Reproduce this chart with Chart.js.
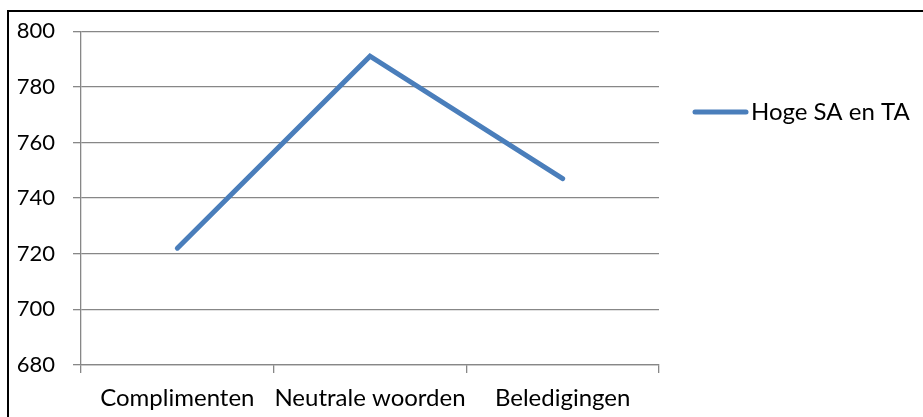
<!DOCTYPE html>
<html>
<head>
<meta charset="utf-8">
<script src="https://cdn.jsdelivr.net/npm/chart.js@4/dist/chart.umd.min.js"></script>
<style>
  html, body { margin: 0; padding: 0; background: #fff; }
  #wrap { width: 923px; height: 417px; position: relative; }
</style>
</head>
<body>
<div id="wrap"><canvas id="chart" width="923" height="417"></canvas></div>
<script>
// Reaction times per word category
const categories = ['Complimenten', 'Neutrale woorden', 'Beledigingen'];
const seriesName = 'Hoge SA en TA';
const seriesValues = [722, 791, 747];
const yTicks = [680, 700, 720, 740, 760, 780, 800];

const FONT = 'Lato';
const FONT_SIZE = 24;
const Y_FONT_SIZE = 22;
const LINE_COLOR = '#4A7EBB';
const GRID_COLOR = '#878787';

// Outer frame around the whole chart
const framePlugin = {
  id: 'frame',
  afterDraw(chart) {
    const ctx = chart.ctx;
    ctx.save();
    ctx.strokeStyle = '#000';
    ctx.lineWidth = 2;
    ctx.strokeRect(8, 11, 2000, 2000);
    ctx.restore();
  }
};

// Legend entry to the right of the plot
const legendPlugin = {
  id: 'sideLegend',
  afterDraw(chart) {
    const ctx = chart.ctx;
    const ds = chart.data.datasets[0];
    const y = 112;
    ctx.save();
    ctx.strokeStyle = ds.borderColor;
    ctx.lineWidth = 5;
    ctx.lineCap = 'round';
    ctx.beginPath();
    ctx.moveTo(695, y);
    ctx.lineTo(746, y);
    ctx.stroke();
    ctx.fillStyle = '#000';
    ctx.font = FONT_SIZE + 'px ' + FONT;
    ctx.textBaseline = 'middle';
    ctx.textAlign = 'left';
    ctx.fillText(ds.label, 751, y);
    ctx.restore();
  }
};

new Chart(document.getElementById('chart'), {
  type: 'line',
  data: {
    labels: categories,
    datasets: [{
      label: seriesName,
      data: seriesValues,
      borderColor: LINE_COLOR,
      backgroundColor: LINE_COLOR,
      borderWidth: 5,
      borderCapStyle: 'round',
      borderJoinStyle: 'miter',
      pointRadius: 0,
      tension: 0
    }]
  },
  options: {
    responsive: false,
    animation: false,
    devicePixelRatio: 1,
    layout: { padding: { left: 0, top: 31, right: 264, bottom: 0 } },
    plugins: { legend: { display: false }, tooltip: { enabled: false } },
    scales: {
      x: {
        type: 'category',
        offset: true,
        grid: {
          offset: true,
          drawOnChartArea: false,
          drawTicks: true,
          tickLength: 8,
          color: GRID_COLOR,
          lineWidth: 1.3
        },
        border: { color: GRID_COLOR, width: 1.3 },
        ticks: {
          color: '#000',
          font: { family: FONT, size: FONT_SIZE },
          padding: 11,
          maxRotation: 0,
          autoSkip: false
        },
        afterFit(scale) { scale.height = 52; }
      },
      y: {
        min: 680,
        max: 800,
        afterBuildTicks(scale) { scale.ticks = yTicks.map(v => ({ value: v })); },
        grid: {
          color: GRID_COLOR,
          lineWidth: 1.3,
          tickLength: 8
        },
        border: { color: GRID_COLOR, width: 1.3 },
        ticks: {
          color: '#000',
          font: { family: FONT, size: Y_FONT_SIZE },
          padding: 18
        },
        afterFit(scale) { scale.width = 81; }
      }
    }
  },
  plugins: [framePlugin, legendPlugin]
});
</script>
</body>
</html>
